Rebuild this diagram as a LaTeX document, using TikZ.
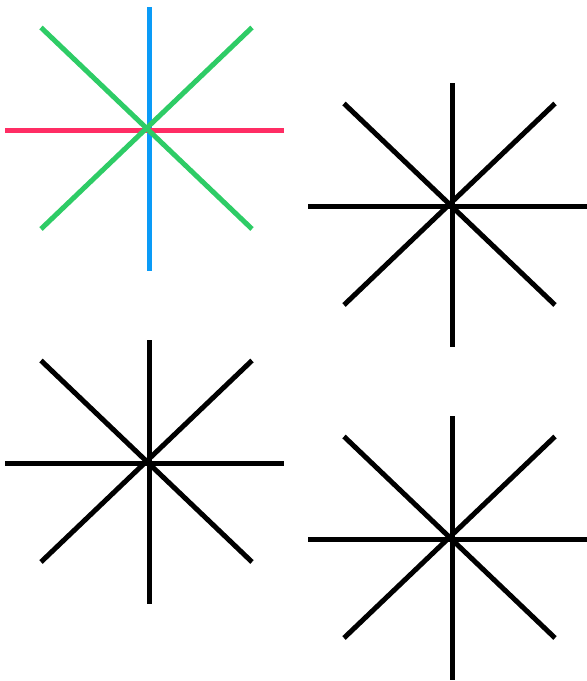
\documentclass[tikz,border=0pt]{standalone}
\definecolor{vblue}{HTML}{0A9BF7}
\definecolor{hred}{HTML}{FF2D64}
\definecolor{dgreen}{HTML}{2ECC66}
\tikzset{
  starline/.style={line width=5pt, line cap=butt},
  pics/eightstar/.style n args={3}{code={
    \draw[starline,#1] (149.5,7) -- (149.5,271);
    \draw[starline,#2] (5,130.5) -- (284,130.5);
    \draw[starline,#3] (41,27.5) -- (252,229);
    \draw[starline,#3] (41,229) -- (252,27.5);
  }}
}
\begin{document}
\begin{tikzpicture}[x=1pt,y=-1pt]
\useasboundingbox (0,0) rectangle (587,681);
\pic at (0,0) {eightstar={vblue}{hred}{dgreen}};
\pic at (303,76) {eightstar={black}{black}{black}};
\pic at (0,333) {eightstar={black}{black}{black}};
\pic at (303,409) {eightstar={black}{black}{black}};
\end{tikzpicture}
\end{document}
